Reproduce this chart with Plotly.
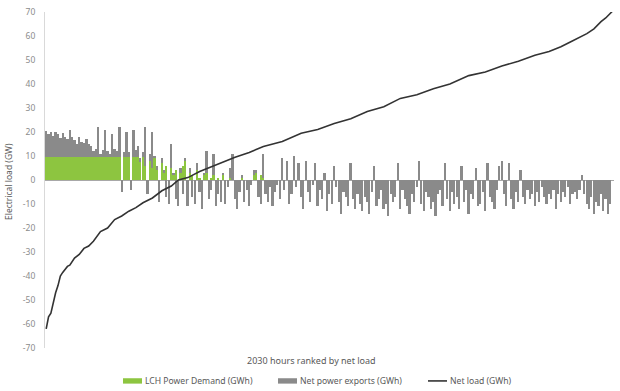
import plotly.graph_objects as go

# Hours ranked by net load (sampled ranks)
ranks = list(range(240))

# LCH power demand (GWh) per ranked hour sample
lch_demand = [
    9.5, 9.5, 9.5, 9.5, 9.5, 9.5, 9.5, 9.5, 9.5, 9.5, 9.5, 9.5, 9.5, 9.5, 9.5, 9.5, 9.5, 9.5, 9.5, 9.5,
    9.5, 9.5, 9.5, 9.5, 9.5, 9.5, 9.5, 9.5, 9.5, 9.5,
    9.5, 9.5, 0, 9.5, 9.5, 9.5, 0, 9.5, 9.5, 9.5,
    7.5, 9.5, 6, 0, 8, 5, 9, 4, 0, 7, 3, 6, 0, 5, 2, 4, 0, 3, 6,
    8, 0, 3, 2, 0, 4, 1, 0, 2, 3, 0, 1, 2, 0, 1, 0, 2,
    0, 0, 1, 0, 0, 0, 0, 1, 0, 0, 0, 0, 2, 3, 0, 2, 1, 0,
    0, 0, 0, 0, 0, 0, 0, 0, 0, 0, 0, 0, 0, 0, 0, 0, 0, 0, 0, 0,
    0, 0, 0, 0, 0, 0, 0, 0, 0, 0, 0, 0, 0, 0, 0, 0, 0, 0, 0, 0,
    0, 0, 0, 0, 0, 0, 0, 0, 0, 0, 0, 0, 0, 0, 0, 0, 0, 0, 0, 0,
    0, 0, 0, 0, 0, 0, 0, 0, 0, 0, 0, 0, 0, 0, 0, 0, 0, 0, 0, 0,
    0, 0, 0, 0, 0, 0, 0, 0, 0, 0, 0, 0, 0, 0, 0, 0, 0, 0, 0, 0,
    0, 0, 0, 0, 0, 0, 0, 0, 0, 0, 0, 0, 0, 0, 0, 0, 0, 0, 0, 0,
    0, 0, 0, 0, 0, 0, 0, 0, 0, 0, 0, 0, 0, 0, 0, 0, 0, 0, 0, 0,
    0, 0, 0, 0, 0, 0,
]

# Net power exports (GWh) per ranked hour sample
net_exports = [
    11, 9.5, 10.5, 9, 10.5, 9.5, 8, 10, 8.5, 7.5, 11.5, 8.5, 7, 5.5, 8.5, 6.5, 6, 7.5, 5.5, 4.5,
    2.5, 3.5, 12.5, 1.5, 3, 11.5, 2.5, 1.5, 9.5, 3.5,
    2.5, 12.5, -5, 2, 10.5, 2, -4, 11.5, 3, 4.5,
    1.5, 2, 16, -6, 3, 15, 1, 2, -9, 2, 1, -7, -10, 10, 1, -8, -11, 2, -6,
    1, -11, 2, -7, -10, 3, -5, -12, 1, 9, -8, -4, 9, -11, -6, -9, 1,
    -10, -3, 4, 11, -8, -12, -5, 1, -9, -4, -11, -2, 2, 1, -7, -10, 10, -6,
    -9, -3, -11, -5, -2, -8, 9, -4, 8, -10,
    -6, 10, -3, 7, -7, -12, 8, -5, -9, -2,
    7, -11, -4, -8, 3, -13, -6, -10, 6, -3,
    -9, -14, -5, -7, -11, 7, -8, -12, -6, -10,
    -13, -7, -9, -14, -5, 6, -11, -8, -4, -12,
    -10, -15, -6, -9, -7, 7, -12, -4, -8, -11,
    -14, -6, -9, -3, 8, -10, -13, -5, -7, -12,
    -9, -15, -6, -4, -11, 7, -8, -13, -5, -10,
    -7, -12, 6, -9, -4, -14, -6, -8, 5, -11,
    -10, -5, -13, 7, -7, -9, -12, -4, 6, 8,
    -6, -11, 7, -8, -12, -5, -9, 4, -7, -10,
    -4, -8, -6, -11, -5, -9, -3, -7, -10, -6,
    -8, -4, -12, -6, -9, -5, -7, -3, -10, -6,
    -5, -8, -4, 2, -6, -10, -12, -7, -14, -9,
    -11, -6, -13, -8, -14, -10,
]

# Net load (GWh) line, read at selected ranks
load_ranks = [0, 1, 2, 3, 4, 5, 6, 7, 8, 9, 10, 12, 14, 16, 18, 20, 23, 26, 29, 32, 35, 38, 41, 45,
              49, 53, 56, 60, 65, 70, 75, 80, 86, 92, 100, 108, 115, 122, 129, 136, 143, 150, 157,
              164, 171, 179, 186, 193, 200, 207, 213, 218, 222, 226, 229, 232, 235, 237, 239, 240]
net_load = [-62, -57, -55.5, -51, -47, -44, -40, -38.5, -37, -36, -35.5, -32.5, -31, -28.5, -27.5,
            -25.5, -21.5, -20, -16.5, -15, -13, -11.5, -9.5, -7.5, -4.5, -2.5, 0, 1, 3.5, 5.5, 7.5,
            9.5, 11.5, 14, 16, 19.5, 21, 23.5, 25.5, 28.5, 30.5, 34, 35.5, 38, 40, 43.5, 45, 47.5,
            49.5, 52, 53.5, 55.5, 57.5, 59.5, 61, 63, 66, 67.5, 69.5, 70.5]

y_ticks = [70, 60, 50, 40, 30, 20, 10, 0, -10, -20, -30, -40, -50, -60, -70]
y_tick_text = ["70", "60", "50", "40", "30", "20", "10", "0", "-10", "-20", "-30", "-40", "-50", "-60", "-70"]

GREEN = "#8dc540"
GRAY = "#8a8a8a"
LINE = "#333333"
TXT = "#595959"
FONT = "Noto Sans"

# style: solid block at the far left, thinner spikes elsewhere
bar_widths = [1.0 if r < 40 else 0.72 for r in ranks]

fig = go.Figure()
fig.add_trace(go.Bar(x=ranks, y=lch_demand, name="LCH Power Demand (GWh)", width=bar_widths,
                     marker=dict(color=GREEN, line=dict(width=0)), showlegend=False))
fig.add_trace(go.Bar(x=ranks, y=net_exports, name="Net power exports (GWh)", width=bar_widths,
                     marker=dict(color=GRAY, line=dict(width=0)), showlegend=False))
fig.add_trace(go.Scatter(x=load_ranks, y=net_load, mode="lines", name="Net load (GWh)",
                         line=dict(color=LINE, width=1.6), showlegend=False))

fig.update_layout(
    width=620, height=391,
    margin=dict(l=45, r=6, t=12, b=43),
    paper_bgcolor="white", plot_bgcolor="white",
    barmode="relative", bargap=0,
    font=dict(family=FONT, size=9, color=TXT),
    xaxis=dict(range=[-0.5, 240.5], showticklabels=False, showgrid=False,
               zeroline=False, showline=False, ticks=""),
    yaxis=dict(range=[-70, 70], tickvals=y_ticks, ticktext=y_tick_text,
               showgrid=False, zeroline=True, zerolinecolor="#a8a8a8", zerolinewidth=1,
               showline=True, linecolor="#d9d9d9", linewidth=1, ticks="",
               ticklabelstandoff=7, automargin=False, ticklabeloverflow="allow",
               tickfont=dict(size=8.5, color="#8c8c8c")),
)

# Axis titles
fig.add_annotation(text="Electrical load (GW)", xref="paper", yref="paper",
                   x=-0.065, y=0.494, textangle=-90, showarrow=False,
                   font=dict(size=8.5, color=TXT), xanchor="center", yanchor="middle")
fig.add_annotation(text="2030 hours ranked by net load", xref="paper", yref="paper",
                   x=0.4675, y=-0.036, showarrow=False,
                   font=dict(size=9, color=TXT), xanchor="center", yanchor="middle")

# Custom legend (positions given in page pixels)
leg_y = -0.098
items = [
    (123, 142, "LCH Power Demand (GWh)", "rect", GREEN),
    (278, 297, "Net power exports (GWh)", "rect", GRAY),
    (428, 447, "Net load (GWh)", "line", LINE),
]
def px2paper(px):
    return (px - 45) / (614 - 45)
for x0, x1, label, kind, col in items:
    if kind == "rect":
        fig.add_shape(type="rect", xref="paper", yref="paper",
                      x0=px2paper(x0), x1=px2paper(x1), y0=leg_y - 0.008, y1=leg_y + 0.008,
                      fillcolor=col, line=dict(width=0))
    else:
        fig.add_shape(type="line", xref="paper", yref="paper",
                      x0=px2paper(x0), x1=px2paper(x1), y0=leg_y, y1=leg_y,
                      line=dict(color=col, width=1.6))
    fig.add_annotation(text=label, xref="paper", yref="paper", x=px2paper(x1 + 1), y=leg_y,
                       showarrow=False, xanchor="left", yanchor="middle",
                       font=dict(size=8.6, color=TXT))

# remove the default body margin so the figure sits at the page's top-left corner
fig.write_html("out.html", config={"displayModeBar": False},
               post_script="document.body.style.margin='0';")
